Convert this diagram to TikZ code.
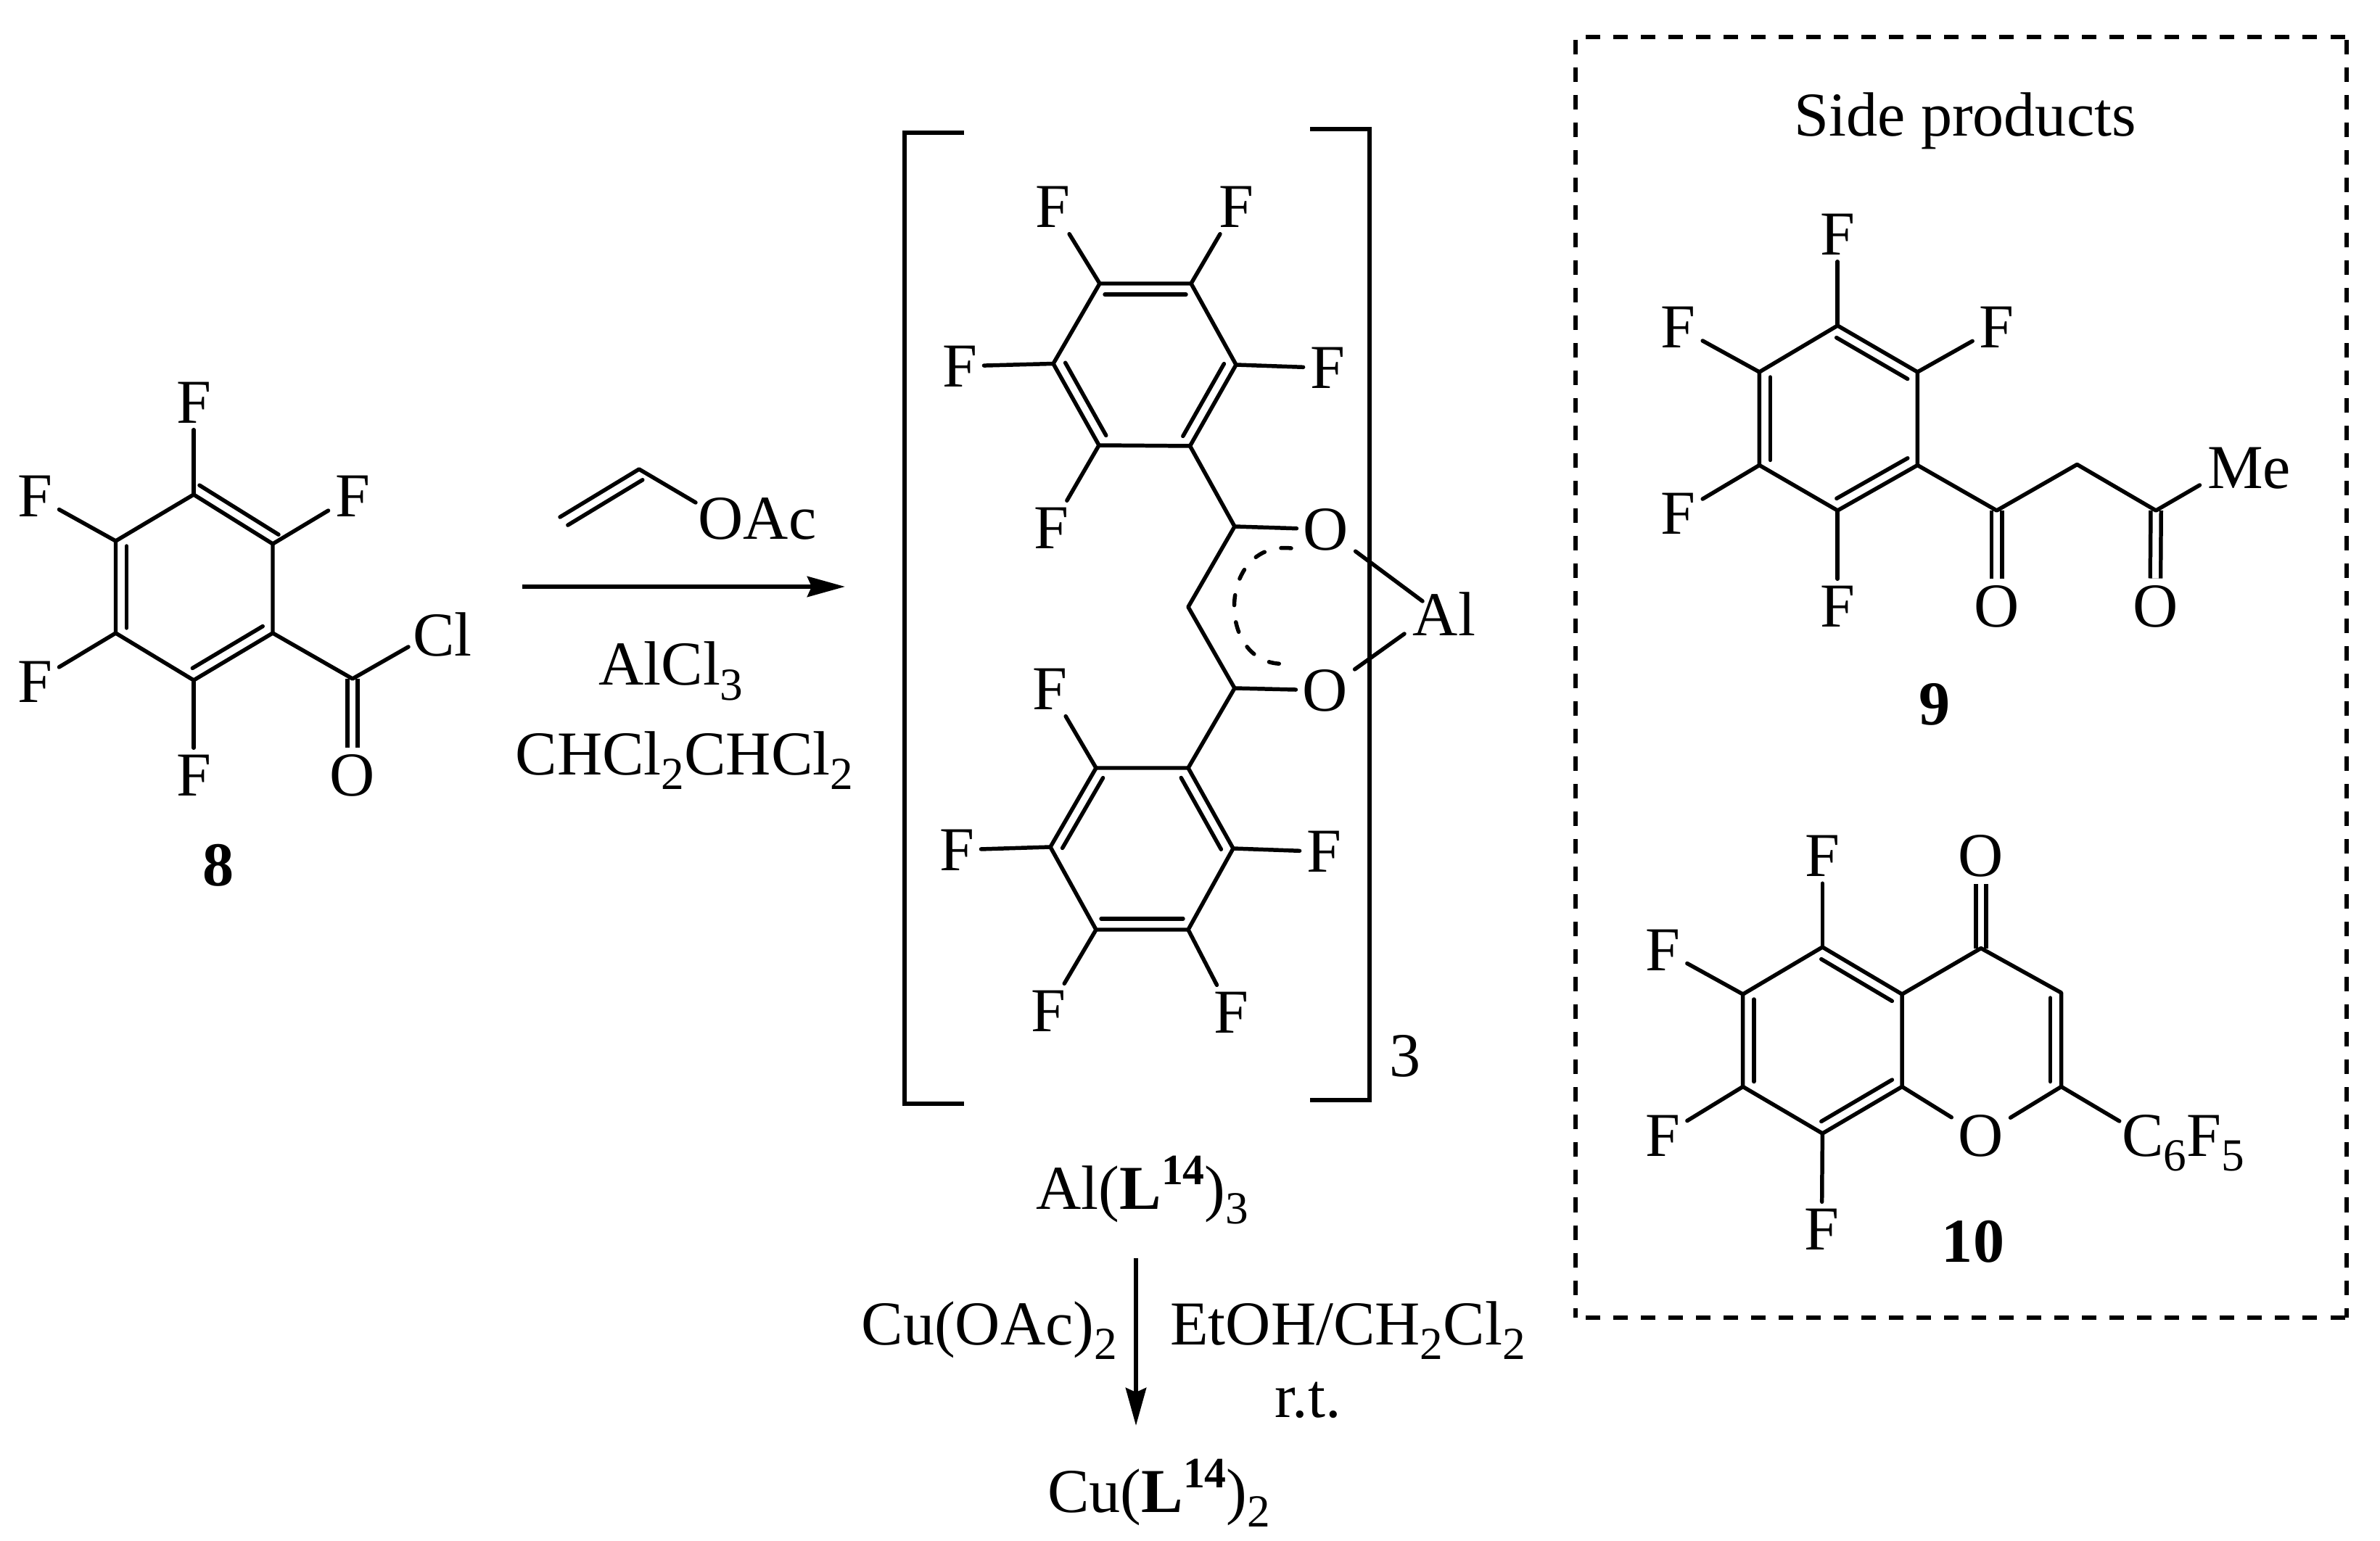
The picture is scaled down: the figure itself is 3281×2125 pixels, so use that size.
\documentclass[tikz,border=0pt]{standalone}
\usepackage{fontspec}
\setmainfont{Liberation Serif}
\usetikzlibrary{calc,arrows.meta}
\tikzset{
  bond/.style={line width=1.56pt,line cap=round,line join=round},
  dbond/.style={line width=1.56pt,double,double distance=2.5pt},
  atom/.style={inner sep=2.5pt,font=\fontsize{24.5}{28}\selectfont},
  chemtext/.style={inner sep=0pt,anchor=base west,font=\fontsize{24.5}{28}\selectfont},
  centext/.style={inner sep=0pt,anchor=base,font=\fontsize{24.5}{28}\selectfont},
  boldtext/.style={inner sep=0pt,anchor=base,font=\fontsize{24.5}{28}\selectfont\bfseries},
  bracket/.style={line width=1.6pt,line cap=butt,line join=miter},
  boxline/.style={line width=1.7pt,dash pattern=on 5.69pt off 5.12pt},
  rxnarrow/.style={line width=1.7pt,-{Stealth[length=14.8pt,width=8pt,inset=1.7pt]}},
}
\newcommand{\chemsub}[1]{\raisebox{-5.7pt}{\fontsize{18}{18}\selectfont #1}}
\newcommand{\chemsup}[1]{\raisebox{9.4pt}{\fontsize{17}{17}\selectfont\bfseries #1}}
\newcommand{\dblbond}[3][2pt]{\draw[bond,shorten <=#1,shorten >=#1] ($(#2)!4.3pt!90:(#3)$) -- ($(#3)!4.3pt!-90:(#2)$);}
\begin{document}
\begin{tikzpicture}[x=0.01cm,y=-0.01cm]
	\useasboundingbox (0,0) rectangle (3281,2125);
	% acid chloride 8
	\coordinate (a1) at (267,682);
	\coordinate (a2) at (159.5,746);
	\coordinate (a3) at (159.5,873);
	\coordinate (a4) at (267,938);
	\coordinate (a5) at (376,873);
	\coordinate (a6) at (376,750);
	\coordinate (a7) at (486,936);
	\coordinate (cl8end) at (563,892);
	\node[atom] (fa1) at (267,555) {F};
	\node[atom] (fa2) at (48,684) {F};
	\node[atom] (fa3) at (48,940) {F};
	\node[atom] (fa4) at (267,1069) {F};
	\node[atom] (fa6) at (486,684) {F};
	\node[atom] (oa7) at (486,1069) {O};
	\node[atom] (cl8) at (610,875) {Cl};
	\node[boldtext] (lab8) at (301,1221) {8};
	\draw[dbond] (a7) -- (oa7);
	\draw[bond] (a1) -- (a2) -- (a3) -- (a4) -- (a5) -- (a6) -- cycle;
	\dblbond{a2}{a3}
	\dblbond{a4}{a5}
	\dblbond[0pt]{a1}{a6}
	\draw[bond] (a1) -- (fa1);
	\draw[bond] (a2) -- (fa2);
	\draw[bond] (a3) -- (fa3);
	\draw[bond] (a4) -- (fa4);
	\draw[bond] (a6) -- (fa6);
	\draw[bond] (a5) -- (a7) -- (cl8end);
	% first step
	\coordinate (arr1a) at (720,809);
	\coordinate (arr1b) at (1165,809);
	\draw[rxnarrow] (arr1a) -- (arr1b);
	\coordinate (v1) at (772,713);
	\coordinate (v2) at (881,647);
	\coordinate (v3) at (959,693);
	\draw[bond] (v1) -- (v2) -- (v3);
	\dblbond[1pt]{v2}{v1}
	\node[chemtext] (oac) at (962,744) {OAc};
	\node[centext] (alcl) at (925,945) {AlCl\chemsub{3}};
	\node[chemtext] (solv1) at (710,1068) {CHCl\chemsub{2}CHCl\chemsub{2}};
	% complex in brackets
	\coordinate (brl1) at (1329,183);
	\coordinate (brl2) at (1247,183);
	\coordinate (brl3) at (1247,1522);
	\coordinate (brl4) at (1329,1522);
	\coordinate (brr1) at (1806,178);
	\coordinate (brr2) at (1888,178);
	\coordinate (brr3) at (1888,1517);
	\coordinate (brr4) at (1806,1517);
	\draw[bracket] (brl1) -- (brl2) -- (brl3) -- (brl4);
	\draw[bracket] (brr1) -- (brr2) -- (brr3) -- (brr4);
	\node[atom] (three) at (1937,1456) {3};
	% upper ring
	\coordinate (b1) at (1516,391);
	\coordinate (b2) at (1452,501.5);
	\coordinate (b3) at (1515,614);
	\coordinate (b4) at (1640.5,615);
	\coordinate (b5) at (1704,503);
	\coordinate (b6) at (1642,391);
	\node[atom] (fb1) at (1451,285) {F};
	\node[atom] (fb2) at (1323,505) {F};
	\node[atom] (fb3) at (1449,728) {F};
	\node[atom] (fb5) at (1830,507.5) {F};
	\node[atom] (fb6) at (1704,285) {F};
	\draw[bond] (b1) -- (b2) -- (b3) -- (b4) -- (b5) -- (b6) -- cycle;
	\dblbond{b6}{b1}
	\dblbond{b2}{b3}
	\dblbond{b4}{b5}
	\draw[bond] (b1) -- (fb1);
	\draw[bond] (b2) -- (fb2);
	\draw[bond] (b3) -- (fb3);
	\draw[bond] (b5) -- (fb5);
	\draw[bond] (b6) -- (fb6);
	% chelate
	\coordinate (c1) at (1702,726);
	\coordinate (c2) at (1638,837);
	\coordinate (c3) at (1702,949);
	\coordinate (alup) at (1961,829);
	\coordinate (aldown) at (1936,874);
	\coordinate (arc1) at (1780,756);
	\coordinate (arc2) at (1776,915);
	\coordinate (arcc1) at (1676,745);
	\coordinate (arcc2) at (1676,925);
	\node[atom] (o1) at (1828,730) {O};
	\node[atom] (o2) at (1827,952) {O};
	\node[atom] (al) at (1991,847) {Al};
	\draw[bond] (b4) -- (c1) -- (c2) -- (c3);
	\draw[bond] (c1) -- (o1);
	\draw[bond] (c3) -- (o2);
	\draw[bond] (o1) -- (alup);
	\draw[bond] (o2) -- (aldown);
	\draw[bond,dash pattern=on 4pt off 6.67pt] (arc1) .. controls (arcc1) and (arcc2) .. (arc2);
	% lower ring
	\coordinate (d1) at (1511,1059);
	\coordinate (d2) at (1448,1168);
	\coordinate (d3) at (1511,1282);
	\coordinate (d4) at (1638,1282);
	\coordinate (d5) at (1700,1170);
	\coordinate (d6) at (1638,1059);
	\node[atom] (fd1) at (1447,950) {F};
	\node[atom] (fd2) at (1319,1172) {F};
	\node[atom] (fd3) at (1445,1394) {F};
	\node[atom] (fd4) at (1697,1396) {F};
	\node[atom] (fd5) at (1825,1174.5) {F};
	\draw[bond] (d1) -- (d2) -- (d3) -- (d4) -- (d5) -- (d6) -- cycle;
	\dblbond{d1}{d2}
	\dblbond{d3}{d4}
	\dblbond{d5}{d6}
	\draw[bond] (d1) -- (fd1);
	\draw[bond] (d2) -- (fd2);
	\draw[bond] (d3) -- (fd3);
	\draw[bond] (d4) -- (fd4);
	\draw[bond] (d5) -- (fd5);
	\draw[bond] (d6) -- (c3);
	% second step
	\node[chemtext] (allig) at (1428,1667) {Al(\textbf{L}\chemsup{14})\chemsub{3}};
	\coordinate (arr2a) at (1566,1735);
	\coordinate (arr2b) at (1566,1966);
	\draw[rxnarrow] (arr2a) -- (arr2b);
	\node[chemtext] (cuac) at (1187,1854) {Cu(OAc)\chemsub{2}};
	\node[chemtext] (solv2) at (1612.6,1854) {EtOH/CH\chemsub{2}Cl\chemsub{2}};
	\node[centext] (rt) at (1803.4,1954.5) {r.t.};
	\node[chemtext] (culig) at (1443.6,2085) {Cu(\textbf{L}\chemsup{14})\chemsub{2}};
	% side products box
	\coordinate (boxnw) at (2172,51);
	\coordinate (boxne) at (3235,51);
	\coordinate (boxse) at (3235,1817);
	\coordinate (boxsw) at (2172,1817);
	\draw[boxline,shorten <=4pt] (boxnw) -- (boxne);
	\draw[boxline,shorten <=1.1pt] (boxnw) -- (boxsw);
	\draw[boxline,shorten <=1.1pt] (boxne) -- (boxse);
	\draw[boxline,shorten <=4pt] (boxsw) -- (boxse);
	\node[centext] (side) at (2709,188) {Side products};
	% side product 9
	\coordinate (e1) at (2533.2,449);
	\coordinate (e2) at (2425.4,513);
	\coordinate (e3) at (2425.4,641.5);
	\coordinate (e4) at (2533.2,704);
	\coordinate (e5) at (2643.4,641.5);
	\coordinate (e6) at (2643.4,513);
	\coordinate (e7) at (2752.6,704);
	\coordinate (e8) at (2863.4,640.5);
	\coordinate (e9) at (2972.1,704);
	\coordinate (meend) at (3032.4,669);
	\node[atom] (fe1) at (2533.2,323) {F};
	\node[atom] (fe2) at (2313.7,451.5) {F};
	\node[atom] (fe3) at (2313.7,708) {F};
	\node[atom] (fe4) at (2533.2,836) {F};
	\node[atom] (fe6) at (2752.6,451.5) {F};
	\node[atom] (oe7) at (2752.6,836) {O};
	\node[atom] (oe9) at (2971.1,836) {O};
	\node[atom] (me) at (3100.6,645.5) {Me};
	\node[boldtext] (lab9) at (2666.6,999) {9};
	\draw[dbond] (e7) -- (oe7);
	\draw[dbond] (e9) -- (oe9);
	\draw[bond] (e1) -- (e2) -- (e3) -- (e4) -- (e5) -- (e6) -- cycle;
	\dblbond{e6}{e1}
	\dblbond{e2}{e3}
	\dblbond{e4}{e5}
	\draw[bond] (e1) -- (fe1);
	\draw[bond] (e2) -- (fe2);
	\draw[bond] (e3) -- (fe3);
	\draw[bond] (e4) -- (fe4);
	\draw[bond] (e6) -- (fe6);
	\draw[bond] (e5) -- (e7) -- (e8) -- (e9) -- (meend);
	% side product 10
	\coordinate (g1) at (2512.4,1306);
	\coordinate (g2) at (2402.7,1371);
	\coordinate (g3) at (2402.7,1498.5);
	\coordinate (g4) at (2512.4,1563);
	\coordinate (g5) at (2622.1,1498.5);
	\coordinate (g6) at (2622.1,1371);
	\coordinate (g7) at (2730.9,1307.6);
	\coordinate (g8) at (2841.6,1369);
	\coordinate (g9) at (2841.6,1498.5);
	\coordinate (c6end) at (2921.7,1546);
	\node[atom] (fg1) at (2512.4,1180.5) {F};
	\node[atom] (fg2) at (2292.4,1310) {F};
	\node[atom] (fg3) at (2292.4,1566) {F};
	\node[atom] (fg4) at (2511.4,1695) {F};
	\node[atom] (og7) at (2730.9,1180.5) {O};
	\node[atom] (oring) at (2730.9,1566) {O};
	\node[chemtext] (c6f5) at (2924.6,1594) {C\chemsub{6}F\chemsub{5}};
	\node[boldtext] (lab10) at (2720,1740) {10};
	\draw[dbond] (g7) -- (og7);
	\draw[bond] (g1) -- (g2) -- (g3) -- (g4) -- (g5) -- (g6) -- cycle;
	\dblbond{g6}{g1}
	\dblbond{g2}{g3}
	\dblbond{g4}{g5}
	\dblbond{g9}{g8}
	\draw[bond] (g1) -- (fg1);
	\draw[bond] (g2) -- (fg2);
	\draw[bond] (g3) -- (fg3);
	\draw[bond] (g4) -- (fg4);
	\draw[bond] (g6) -- (g7) -- (g8) -- (g9);
	\draw[bond] (g5) -- (oring);
	\draw[bond] (g9) -- (oring);
	\draw[bond] (g9) -- (c6end);
\end{tikzpicture}
\end{document}
